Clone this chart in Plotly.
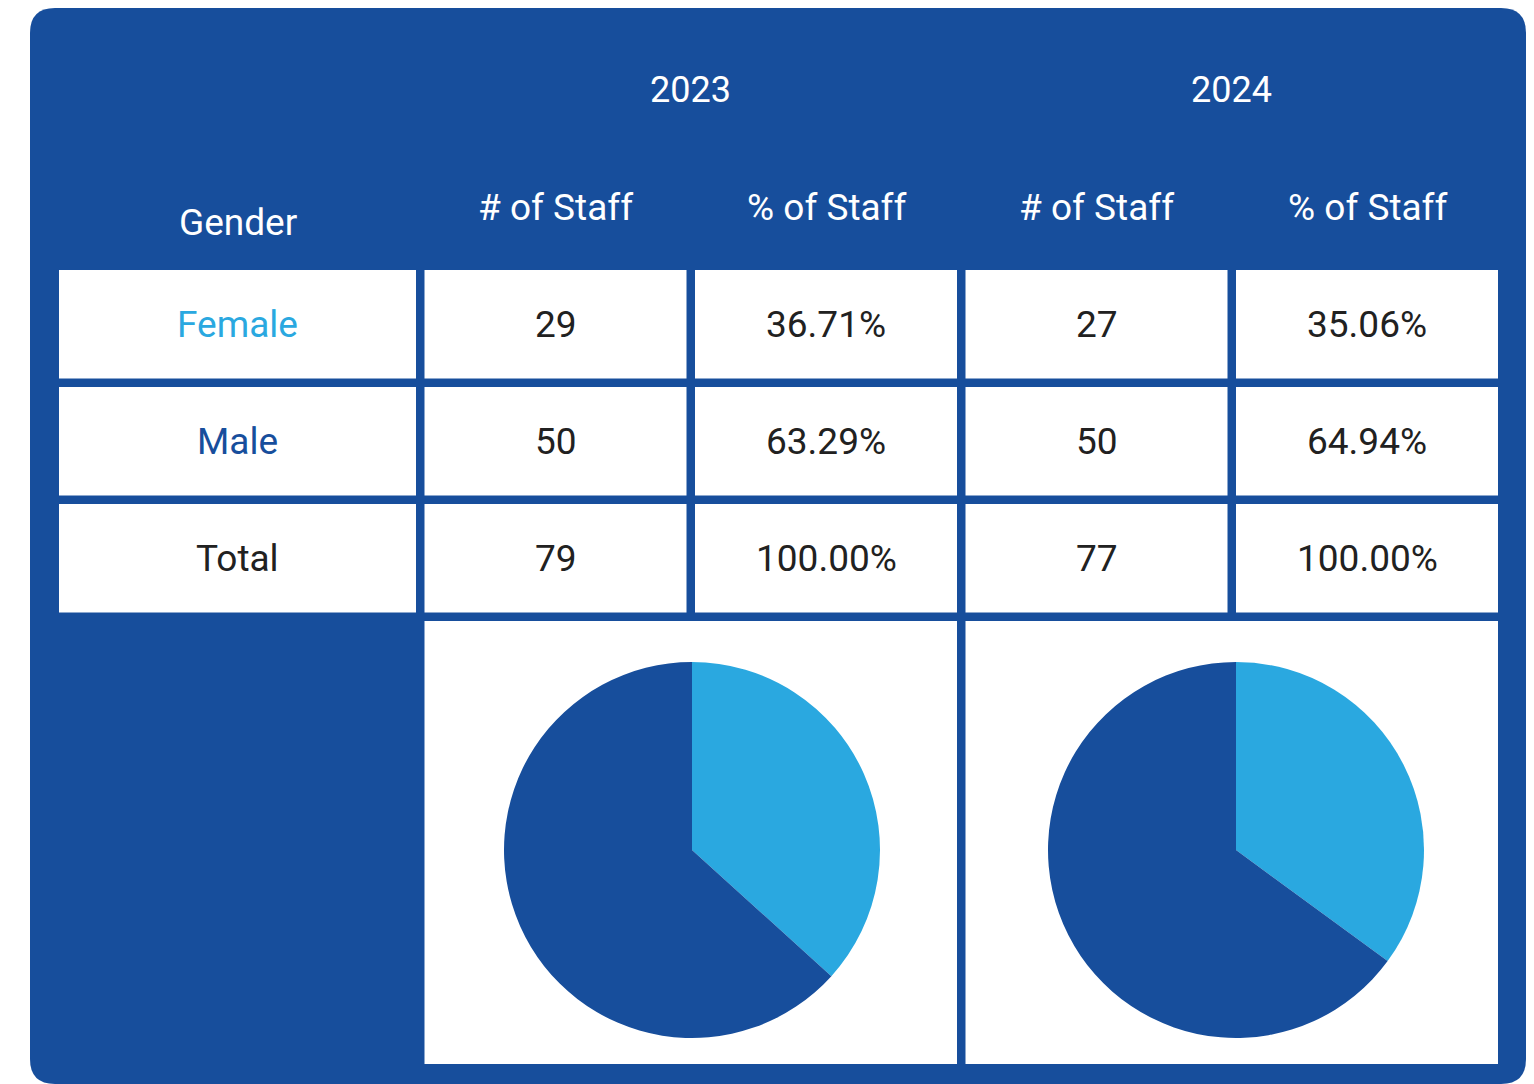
import plotly.graph_objects as go

# ---------------- data ----------------
years = ["2023", "2024"]
genders = ["Female", "Male", "Total"]
staff_2023 = [29, 50, 79]
pct_2023 = ["36.71%", "63.29%", "100.00%"]
staff_2024 = [27, 50, 77]
pct_2024 = ["35.06%", "64.94%", "100.00%"]
sub_headers = ["# of Staff", "% of Staff"]
pie_labels = ["Female", "Male"]

# ---------------- style ----------------
W, H = 1534, 1084
OFF = 8  # page body margin offset (screen coords -> figure coords)
BLUE = "#174E9C"
LIGHT = "#2AA8E0"
DARK = "#212121"
FONT = "Roboto"
label_colors = [LIGHT, BLUE, DARK]

# grid geometry (screen pixels)
card = dict(x0=30, x1=1526, y0=8, y1=1084, r=25)
x_start, gap = 59, 8.5
col_widths = [357, 262, 262, 262, 262]
row_top, row_h = 270, 108.5
pie_row_h = 443

col_left = []
x = x_start
for w in col_widths:
    col_left.append(x)
    x += w + gap
col_right = [l + w for l, w in zip(col_left, col_widths)]
col_center = [(l + r) / 2 for l, r in zip(col_left, col_right)]

row_tops = [row_top + i * (row_h + gap) for i in range(3)]
pie_top = row_tops[-1] + row_h + gap
pie_bottom = pie_top + pie_row_h

fig = go.Figure()

shapes = []
# rounded card
r = card["r"]
x0, x1, y0, y1 = card["x0"], card["x1"], card["y0"], card["y1"]
path = (f"M {x0+r},{y0} L {x1-r},{y0} Q {x1},{y0} {x1},{y0+r} "
        f"L {x1},{y1-r} Q {x1},{y1} {x1-r},{y1} L {x0+r},{y1} "
        f"Q {x0},{y1} {x0},{y1-r} L {x0},{y0+r} Q {x0},{y0} {x0+r},{y0} Z")
shapes.append(dict(type="path", path=path, xref="x", yref="y",
                   fillcolor=BLUE, line=dict(width=0), layer="below"))

# table cells
for ri in range(3):
    for ci in range(5):
        shapes.append(dict(type="rect", xref="x", yref="y",
                           x0=col_left[ci], x1=col_right[ci],
                           y0=row_tops[ri], y1=row_tops[ri] + row_h,
                           fillcolor="white", line=dict(width=0), layer="below"))
# pie cells
for k in range(2):
    shapes.append(dict(type="rect", xref="x", yref="y",
                       x0=col_left[1 + 2 * k], x1=col_right[2 + 2 * k],
                       y0=pie_top, y1=pie_bottom,
                       fillcolor="white", line=dict(width=0), layer="below"))

annotations = []
def ann(text, x, y, color, size=37):
    annotations.append(dict(text=text, x=x, y=y, xref="x", yref="y",
                            showarrow=False, xanchor="center", yanchor="middle",
                            font=dict(family=FONT, size=size, color=color)))

# header rows
for k, yr in enumerate(years):
    ann(yr, (col_left[1 + 2 * k] + col_right[2 + 2 * k]) / 2, 90, "white", 36)
    for j, sh in enumerate(sub_headers):
        ann(sh, col_center[1 + 2 * k + j], 207, "white")
ann("Gender", col_center[0], 222, "white")

# body
cols = [staff_2023, pct_2023, staff_2024, pct_2024]
for ri, g in enumerate(genders):
    yc = row_tops[ri] + row_h / 2
    ann(g, col_center[0], yc, label_colors[ri])
    for ci, vals in enumerate(cols):
        ann(str(vals[ri]), col_center[ci + 1], yc, DARK)

# invisible scatter to anchor axes
fig.add_trace(go.Scatter(x=[OFF, W + OFF], y=[OFF, H + OFF], mode="markers",
                         marker=dict(opacity=0), hoverinfo="skip", showlegend=False))

# pies
pie_centers = [(692, 850), (1236, 850)]
pie_r = 188
pie_vals = [[staff_2023[0], staff_2023[1]], [staff_2024[0], staff_2024[1]]]
for (cx, cy), vals in zip(pie_centers, pie_vals):
    fx, fy = cx - OFF, cy - OFF
    fig.add_trace(go.Pie(
        labels=pie_labels, values=vals, sort=False, direction="clockwise",
        rotation=0, textinfo="none", hoverinfo="label+value",
        marker=dict(colors=[LIGHT, BLUE], line=dict(width=0)),
        domain=dict(x=[(fx - pie_r) / W, (fx + pie_r) / W],
                    y=[1 - (fy + pie_r) / H, 1 - (fy - pie_r) / H]),
        showlegend=False))

fig.update_layout(
    width=W, height=H, margin=dict(l=0, r=0, t=0, b=0),
    paper_bgcolor="white", plot_bgcolor="rgba(0,0,0,0)",
    xaxis=dict(range=[OFF, W + OFF], visible=False, fixedrange=True, domain=[0, 1]),
    yaxis=dict(range=[H + OFF, OFF], visible=False, fixedrange=True, domain=[0, 1]),
    shapes=shapes, annotations=annotations, showlegend=False,
)

fig.write_html("out.html")
